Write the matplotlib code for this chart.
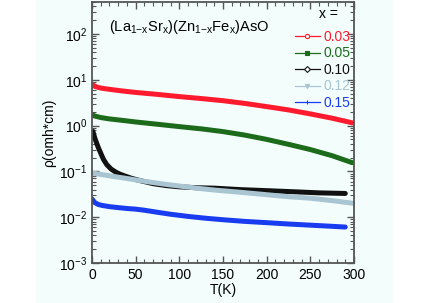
import numpy as np
import matplotlib.pyplot as plt
from matplotlib.lines import Line2D
from matplotlib.patches import Rectangle
from matplotlib.ticker import LogLocator, MultipleLocator, NullFormatter

# resistivity curves
t03 = [0, 3, 10, 20, 35, 50, 75, 100, 125, 150, 175, 200, 225, 250, 275, 298]
r03 = [8.0, 7.2, 6.6, 6.2, 5.7, 5.3, 4.8, 4.3, 3.9, 3.5, 3.05, 2.6, 2.2, 1.8, 1.45, 1.15]

t05 = [0, 3, 10, 20, 35, 50, 75, 100, 125, 150, 175, 200, 225, 250, 275, 298]
r05 = [1.75, 1.62, 1.5, 1.4, 1.3, 1.2, 1.07, 0.95, 0.85, 0.74, 0.62, 0.5, 0.39, 0.3, 0.22, 0.155]

t10 = [1, 3, 5, 7, 10, 13, 17, 22, 27, 32, 38, 45, 55, 70, 85, 100, 120, 141, 170, 200, 230, 260, 290]
r10 = [0.75, 0.55, 0.43, 0.34, 0.25, 0.185, 0.14, 0.112, 0.097, 0.087, 0.079, 0.071, 0.063, 0.054, 0.049,
       0.046, 0.044, 0.043, 0.040, 0.038, 0.036, 0.034, 0.033]

t12 = [0, 10, 20, 40, 55, 70, 85, 100, 120, 141, 170, 200, 225, 250, 275, 300]
r12 = [0.092, 0.086, 0.08, 0.07, 0.063, 0.057, 0.052, 0.048, 0.043, 0.039, 0.035, 0.031, 0.028, 0.026, 0.023, 0.020]

t15 = [0, 3, 7, 12, 20, 30, 40, 50, 60, 75, 90, 110, 130, 150, 175, 200, 225, 250, 270, 290]
r15 = [0.025, 0.021, 0.019, 0.018, 0.017, 0.0162, 0.0155, 0.015, 0.0142, 0.0128, 0.0116, 0.0104, 0.0095,
       0.0088, 0.0081, 0.0076, 0.0071, 0.0067, 0.0064, 0.0061]

labels = ["0.03", "0.05", "0.10", "0.12", "0.15"]
colors = ["#ff1a2e", "#1b6b1b", "#111111", "#a9c5d2", "#1a3cf0"]
markers = ["o", "s", "D", "v", "|"]

plt.rcParams['font.family'] = ['Liberation Sans', 'DejaVu Sans']
plt.rcParams['mathtext.fontset'] = 'custom'
plt.rcParams['mathtext.rm'] = 'Liberation Sans'
plt.rcParams['mathtext.it'] = 'Liberation Sans'

fig = plt.figure(figsize=(4.29, 3.03), dpi=100)
fig.patches.append(Rectangle((36 / 429, 0), (393 - 36) / 429, 1, transform=fig.transFigure,
                             facecolor="#f3fdfc", edgecolor="none", zorder=-10))
ax = fig.add_axes([92 / 429, 1 - 263 / 303, (354 - 92) / 429, 261 / 303])
ax.set_facecolor("#f3fdfc")

series = [(t03, r03), (t05, r05), (t10, r10), (t12, r12), (t15, r15)]
for (t, r), c in zip(series, colors):
    ax.plot(t, r, color=c, lw=3.6, solid_capstyle='round', solid_joinstyle='round')

ax.set_yscale('log')
ax.set_xlim(0, 300)
ax.set_ylim(1e-3, 500)
ax.xaxis.set_major_locator(MultipleLocator(50))
ax.xaxis.set_minor_locator(MultipleLocator(10))
ax.yaxis.set_major_locator(LogLocator(base=10, numticks=10))
ax.yaxis.set_minor_locator(LogLocator(base=10, subs=np.arange(2, 10), numticks=20))
ax.yaxis.set_minor_formatter(NullFormatter())
ax.tick_params(which='both', direction='in', top=True, right=True, colors='#555555',
               labelcolor='black', labelsize=10)
ax.tick_params(which='major', length=5, width=1)
ax.tick_params(which='minor', length=3, width=0.8)
for s in ax.spines.values():
    s.set_color('#555555')
    s.set_linewidth(1.3)

ax.set_xlabel("T(K)", fontsize=10, labelpad=1)
ax.set_ylabel("ρ(omh*cm)", fontsize=10, labelpad=2)

ax.text(0.065, 0.905, r"(La$_{1\mathrm{-}x}$Sr$_x$)(Zn$_{1\mathrm{-}x}$Fe$_x$)AsO",
        transform=ax.transAxes, fontsize=10.5, va='center', ha='left')

handles = [Line2D([], [], color=c, lw=0.9, marker=m, markersize=3, markeredgewidth=0.8,
                  markerfacecolor=('white' if m in ('o', 'D') else c), markeredgecolor=c)
           for c, m in zip(colors, markers)]
leg = ax.legend(handles, labels, loc='upper right', bbox_to_anchor=(1.02, 0.925), frameon=False,
                fontsize=10, handlelength=1.8, handletextpad=0.3, labelspacing=0.18,
                labelcolor=colors, borderaxespad=0.2)
ax.text(0.865, 0.955, "x =", transform=ax.transAxes, fontsize=10, ha='left', va='center')

fig.savefig("out.png", dpi=100)
